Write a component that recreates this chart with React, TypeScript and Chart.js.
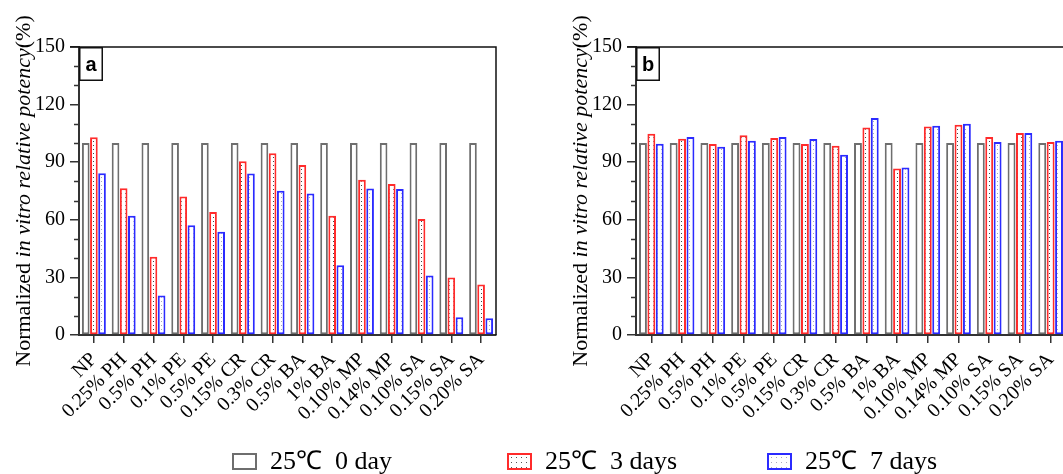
import React, { useEffect, useRef } from 'react';
import { Chart, registerables } from 'chart.js';
Chart.register(...registerables);

const categories = ['NP', '0.25% PH', '0.5% PH', '0.1% PE', '0.5% PE', '0.15% CR', '0.3% CR', '0.5% BA', '1% BA', '0.10% MP', '0.14% MP', '0.10% SA', '0.15% SA', '0.20% SA'];
const seriesLabels = ['25℃  0 day', '25℃  3 days', '25℃  7 days'];

const aDay0 = [100, 100, 100, 100, 100, 100, 100, 100, 100, 100, 100, 100, 100, 100];
const aDay3 = [103, 76.4, 40.8, 72.1, 64, 90.5, 94.6, 88.6, 62.1, 80.8, 78.7, 60.4, 29.9, 26.3];
const aDay7 = [84.2, 62.1, 20.6, 57.1, 53.8, 84.1, 75.1, 73.7, 36.3, 76.3, 76.1, 31, 9.2, 8.7];

const bDay0 = [100, 100, 100, 100, 100, 100, 100, 100, 100, 100, 100, 100, 100, 100];
const bDay3 = [104.8, 102.2, 99.5, 104.1, 102.6, 99.5, 98.6, 108.1, 86.7, 108.6, 109.5, 103.1, 105.2, 100.5];
const bDay7 = [99.6, 103.1, 98.1, 101.2, 103.1, 102.1, 93.9, 113, 87.2, 109, 110, 100.5, 105.2, 101.2];

const yMin = 0;
const yMax = 150;
const yMajorStep = 30;
const yMinorStep = 10;

const titleParts: [string, boolean][] = [
  ['Normalized ', false],
  ['in vitro relative potency', true],
  ['(%)', false],
];

const SERIF = '"Liberation Serif", "Times New Roman", serif';
const GRAY = '#6e6e6e';
const RED = '#ff2b2b';
const BLUE = '#2b2bff';

function makePattern(dot: string, bg: string): CanvasPattern | string {
  const c = document.createElement('canvas');
  c.width = 4;
  c.height = 4;
  const g = c.getContext('2d');
  if (!g) return bg;
  g.fillStyle = bg;
  g.fillRect(0, 0, 4, 4);
  g.fillStyle = dot;
  g.fillRect(1, 1, 1, 1);
  const p = g.createPattern(c, 'repeat');
  return p || bg;
}

const decorPlugin = {
  id: 'decor',
  afterDraw(chart: any, _args: any, opts: any) {
    const { ctx, chartArea } = chart;
    const { left, right, top, bottom } = chartArea;
    const yScale = chart.scales.y;
    ctx.save();
    // top and right frame
    ctx.strokeStyle = '#111';
    ctx.lineWidth = 1.5;
    ctx.beginPath();
    ctx.moveTo(left - 9, top);
    ctx.lineTo(right, top);
    ctx.lineTo(right, bottom);
    ctx.stroke();
    // minor ticks
    ctx.strokeStyle = '#333';
    ctx.lineWidth = 1.5;
    for (let v = yMin + yMinorStep; v < yMax; v += yMinorStep) {
      if (v % yMajorStep === 0) continue;
      const py = Math.round(yScale.getPixelForValue(v)) + 0.5;
      ctx.beginPath();
      ctx.moveTo(left - 5, py);
      ctx.lineTo(left, py);
      ctx.stroke();
    }
    // panel label box
    const bw = 24;
    const bh = 34;
    ctx.fillStyle = '#fff';
    ctx.fillRect(left, top, bw, bh);
    ctx.strokeStyle = '#111';
    ctx.lineWidth = 1.5;
    ctx.strokeRect(left + 0.75, top + 0.75, bw - 1.5, bh - 1.5);
    ctx.fillStyle = '#000';
    ctx.font = 'bold 20px "Liberation Sans", Arial, sans-serif';
    ctx.textAlign = 'center';
    ctx.textBaseline = 'middle';
    ctx.fillText(opts.label, left + bw / 2, top + bh / 2 + 1);
    // y title with mixed styles
    const size = 22;
    const widths = titleParts.map(([t, it]) => {
      ctx.font = `${it ? 'italic ' : ''}${size}px ${SERIF}`;
      return ctx.measureText(t).width;
    });
    const total = widths.reduce((s, w) => s + w, 0);
    ctx.translate(left - opts.titleOffset, (top + bottom) / 2);
    ctx.rotate(-Math.PI / 2);
    ctx.textAlign = 'left';
    ctx.textBaseline = 'middle';
    let x = -total / 2;
    titleParts.forEach(([t, it], i) => {
      ctx.font = `${it ? 'italic ' : ''}${size}px ${SERIF}`;
      ctx.fillText(t, x, 0);
      x += widths[i];
    });
    ctx.restore();
  },
};

function buildConfig(d0: number[], d3: number[], d7: number[], label: string, yWidth: number) {
  const redPat = makePattern('#444', '#fff');
  const bluePat = makePattern('#a4a4bc', '#fff');
  const common = { borderSkipped: false, categoryPercentage: 0.82, barPercentage: 0.94 };
  return {
    type: 'bar',
    data: {
      labels: categories,
      datasets: [
        { label: seriesLabels[0], data: d0, backgroundColor: '#fff', borderColor: GRAY, borderWidth: 2, ...common },
        { label: seriesLabels[1], data: d3, backgroundColor: redPat, borderColor: RED, borderWidth: 2, ...common },
        { label: seriesLabels[2], data: d7, backgroundColor: bluePat, borderColor: BLUE, borderWidth: 2, ...common },
      ],
    },
    options: {
      animation: false,
      responsive: false,
      devicePixelRatio: 1,
      layout: { padding: { top: 47, right: 14, left: 0, bottom: 0 } },
      plugins: {
        legend: { display: false },
        tooltip: { enabled: false },
        decor: { label, titleOffset: 55 },
      },
      scales: {
        x: {
          type: 'category',
          offset: true,
          grid: { display: true, drawOnChartArea: false, drawTicks: true, tickLength: 8, offset: false, color: '#333', lineWidth: 1.5 },
          border: { display: true, color: '#333', width: 2 },
          ticks: {
            color: '#000',
            font: { family: SERIF, size: 20 },
            maxRotation: 45,
            minRotation: 45,
            autoSkip: false,
            padding: 5,
          },
          afterFit: (s: any) => { s.height = 139; },
        },
        y: {
          min: yMin,
          max: yMax,
          grid: { display: true, drawOnChartArea: false, drawTicks: true, tickLength: 9, color: '#333', lineWidth: 1.5 },
          border: { display: true, color: '#333', width: 2 },
          ticks: {
            stepSize: yMajorStep,
            color: '#000',
            font: { family: SERIF, size: 20 },
            padding: 5,
          },
          afterFit: (s: any) => { s.width = yWidth; },
        },
      },
    },
    plugins: [decorPlugin],
  } as any;
}

function Panel(props: { d0: number[]; d3: number[]; d7: number[]; label: string; left: number; width: number; yWidth: number }) {
  const ref = useRef<HTMLCanvasElement | null>(null);
  useEffect(() => {
    if (!ref.current) return;
    const chart = new Chart(ref.current, buildConfig(props.d0, props.d3, props.d7, props.label, props.yWidth));
    return () => chart.destroy();
  }, []);
  return (
    <canvas
      ref={ref}
      width={props.width}
      height={474}
      style={{ position: 'absolute', left: props.left, top: 0, width: props.width, height: 474 }}
    />
  );
}

const dotsRed = 'radial-gradient(circle, #555 0.7px, transparent 1px)';
const dotsBlue = 'radial-gradient(circle, #aab 0.7px, transparent 1px)';

function LegendItem(props: { left: number; text: string; border: string; dots?: string }) {
  return (
    <div style={{ position: 'absolute', left: props.left, top: 448, display: 'flex', alignItems: 'center', whiteSpace: 'pre' }}>
      <div
        style={{
          width: 25,
          height: 17,
          boxSizing: 'border-box',
          borderWidth: 2,
          borderStyle: 'solid',
          borderColor: props.border,
          backgroundColor: '#fff',
          backgroundImage: props.dots || 'none',
          backgroundSize: '5px 5px',
        }}
      />
      <span style={{ marginLeft: 13, fontFamily: SERIF, fontSize: 26, lineHeight: '26px', color: '#000' }}>{props.text}</span>
    </div>
  );
}

export default function App() {
  return (
    <div style={{ position: 'fixed', left: 0, top: 0, width: 1063, height: 474, overflow: 'hidden', background: '#fff' }}>
      <Panel d0={aDay0} d3={aDay3} d7={aDay7} label="a" left={0} width={510} yWidth={79} />
      <Panel d0={bDay0} d3={bDay3} d7={bDay7} label="b" left={520} width={560} yWidth={116} />
      <LegendItem left={232} text={seriesLabels[0]} border={GRAY} />
      <LegendItem left={507} text={seriesLabels[1]} border={RED} dots={dotsRed} />
      <LegendItem left={767} text={seriesLabels[2]} border={BLUE} dots={dotsBlue} />
    </div>
  );
}
